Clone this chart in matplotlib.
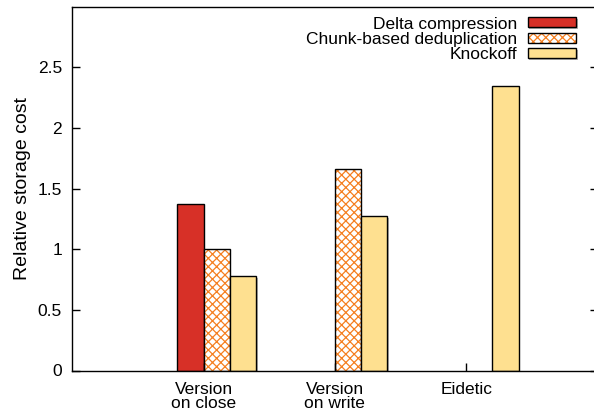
import matplotlib.pyplot as plt
import matplotlib.patheffects as pe
from matplotlib.legend_handler import HandlerTuple
import numpy as np

plt.rcParams['font.family'] = ['Liberation Sans', 'DejaVu Sans']
plt.rcParams['hatch.linewidth'] = 0.9

groups = ["Version\non close", "Version\non write", "Eidetic"]
series = ["Delta compression", "Chunk-based deduplication", "Knockoff"]
delta = [1.37, np.nan, np.nan]
chunk = [1.00, 1.66, np.nan]
knockoff = [0.78, 1.27, 2.35]

red = "#d73027"
orange = "#f57f20"
yellow = "#fee090"

fig = plt.figure(figsize=(5.94, 4.17), dpi=100)
ax = fig.add_axes([72.3 / 594, 1 - 370.5 / 417, (597.5 - 72.3) / 594, (370.5 - 6.7) / 417])

x = np.arange(len(groups))
w = 0.2
shadow = [pe.SimplePatchShadow(offset=(1.2, -1.2), shadow_rgbFace='0.5', alpha=0.6), pe.Normal()]

b1 = ax.bar(x - w / 2, delta, w, color=red, edgecolor='black', linewidth=1.0)
# hatched bars: hatch drawn in orange, outline in black drawn on top
b2 = ax.bar(x + w / 2, chunk, w, color='white', edgecolor=orange, hatch='xxxx', linewidth=0)
b2o = ax.bar(x + w / 2, chunk, w, fill=False, edgecolor='black', linewidth=1.0)
b3 = ax.bar(x + 3 * w / 2, knockoff, w, color=yellow, edgecolor='black', linewidth=1.0)
for bars in (b1, b3):
    for p in bars:
        p.set_path_effects(shadow)

ax.set_xlim(-1, 3)
ax.set_ylim(0, 3)
ax.set_xticks(x)
ax.set_xticklabels(groups, fontsize=12.5, linespacing=0.95)
ax.set_yticks([0, 0.5, 1, 1.5, 2, 2.5])
ax.set_yticklabels(['0', '0.5', '1', '1.5', '2', '2.5'], fontsize=12.5)
ax.tick_params(direction='in', length=6, width=1, right=True, top=False)
ax.tick_params(axis='x', pad=8)
ax.tick_params(axis='y', pad=7.5)
ax.set_ylabel("Relative storage cost", fontsize=14, labelpad=4.5)
for s in ax.spines.values():
    s.set_linewidth(1.0)

ax.legend([b1, (b2, b2o), b3], series, handler_map={tuple: HandlerTuple(ndivide=1, pad=0)},
          loc='upper right', bbox_to_anchor=(0.986, 1.011), markerfirst=False,
          frameon=False, fontsize=12.5, handlelength=2.8, handleheight=0.5,
          labelspacing=0.02, handletextpad=0.6, borderaxespad=0.4)

fig.savefig("out.png", dpi=100)
